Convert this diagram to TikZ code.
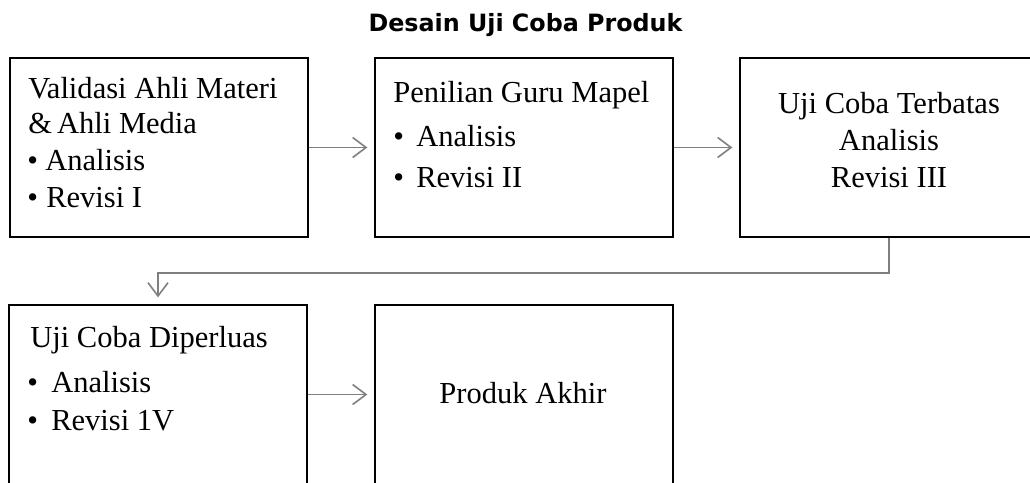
\documentclass[tikz,border=0pt]{standalone}
\usepackage{fontspec}
\setmainfont{Liberation Serif}
\newfontfamily\headfont{DejaVu Sans}
\usetikzlibrary{arrows.meta}
\definecolor{linkgray}{HTML}{7F7F7F}
\begin{document}
\begin{tikzpicture}[x=0.75pt,y=-0.75pt,
  box/.style={draw=black,line width=1.5pt,minimum width=223.5pt,minimum height=134.25pt,inner sep=0pt},
  txt/.style={inner sep=0pt,anchor=base west,font=\fontsize{22.9}{27}\selectfont},
  ctxt/.style={txt,anchor=base},
  link/.style={draw=linkgray,line width=1.2pt,-{Straight Barb[length=10pt,width=15pt]},shorten >=5pt}]
\useasboundingbox (0,0) rectangle (1030,482);

% title
\node[inner sep=0pt,anchor=base,font=\headfont\bfseries\fontsize{17.85}{20}\selectfont] (title) at (525.5,31) {Desain Uji Coba Produk};

% boxes
\node[box] (b1) at (158.5,147.5) {};
\node[box] (b2) at (524,147.5) {};
\node[box] (b3) at (889,147.5) {};
\node[box] (b4) at (158,394.5) {};
\node[box] (b5) at (524,394.5) {};

% box 1
\node[txt] (t1a) at (28,98) {Validasi Ahli Materi};
\node[txt] (t1b) at (28,133) {\&\,Ahli Media};
\node[txt] (t1c) at (27,170) {•};
\node[txt] (t1d) at (45,170) {Analisis};
\node[txt] (t1e) at (27,207) {•};
\node[txt] (t1f) at (46,207) {Revisi I};

% box 2
\node[txt] (t2a) at (393,102) {Penilian Guru Mapel};
\node[txt] (t2b) at (393,146) {•};
\node[txt] (t2c) at (416,146) {Analisis};
\node[txt] (t2d) at (393,187) {•};
\node[txt] (t2e) at (416,187) {Revisi II};

% box 3
\node[ctxt] (t3a) at (889,113) {Uji Coba Terbatas};
\node[ctxt] (t3b) at (889,150) {Analisis};
\node[ctxt] (t3c) at (889,187) {Revisi III};

% box 4
\node[txt] (t4a) at (30,347) {Uji Coba Diperluas};
\node[txt] (t4b) at (27,392) {•};
\node[txt] (t4c) at (51,392) {Analisis};
\node[txt] (t4d) at (27,430) {•};
\node[txt] (t4e) at (51,430) {Revisi 1V};

% box 5
\node[ctxt] (t5a) at (523,403) {Produk Akhir};

% connectors
\draw[link] (b1.east) -- (b2.west);
\draw[link] (b2.east) -- (b3.west);
\draw[link] (b3.south) -- ++(0,35) -| (b4.north);
\draw[link] (b4.east) -- (b5.west);
\end{tikzpicture}
\end{document}
